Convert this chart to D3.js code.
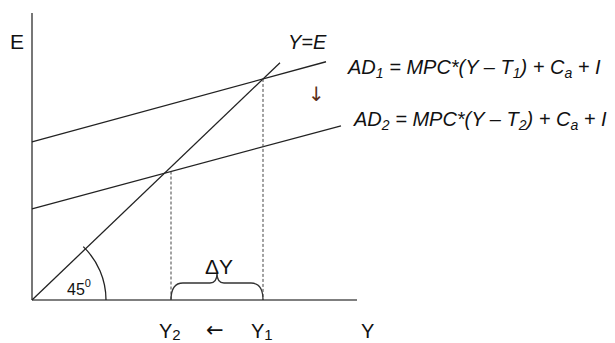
<!DOCTYPE html>
<html>
<head>
<meta charset="utf-8">
<script src="https://cdn.jsdelivr.net/npm/d3@7"></script>
<style>
  body { margin: 0; background: #fff; }
  text { font-family: "Liberation Sans", Arial, sans-serif; fill: #111; }
</style>
</head>
<body>
<div id="chart"></div>
<script>
// Keynesian cross, values (data units)
const adNames = ["AD1", "AD2"];
const adIntercepts = [6.61, 3.81];
const adSlopes = [0.285, 0.281];
const adEnds = [11.76, 12.36];
const line45End = 9.92;
const incomeLevels = [9.24, 5.56];   // Y1, Y2 (where the dashed drop lines sit)
const incomeLabels = ["Y1", "Y2"];

const width = 615, height = 343;
const origin = {x: 32, y: 300};

const svg = d3.select("#chart").append("svg")
    .attr("width", width)
    .attr("height", height);

const xScale = d3.scaleLinear().domain([0, 13]).range([origin.x, 357]);
const yScale = d3.scaleLinear().domain([0, 12]).range([origin.y, 13]);

// axes (plain lines, no ticks)
svg.append("line")
    .attr("x1", xScale(0)).attr("y1", yScale(0))
    .attr("x2", xScale(0)).attr("y2", yScale(12))
    .attr("stroke", "#555").attr("stroke-width", 1.6);
svg.append("line")
    .attr("x1", xScale(0)).attr("y1", yScale(0))
    .attr("x2", xScale(13)).attr("y2", yScale(0))
    .attr("stroke", "#555").attr("stroke-width", 1.6);

const line = d3.line().x(d => xScale(d[0])).y(d => yScale(d[1]));

// 45 degree line
svg.append("path")
    .attr("d", line([[0, 0], [line45End, line45End]]))
    .attr("fill", "none").attr("stroke", "#222").attr("stroke-width", 1.3);

// AD lines
adNames.forEach((n, i) => {
    const c = adIntercepts[i], m = adSlopes[i];
    svg.append("path")
        .attr("d", line([[0, c], [adEnds[i], c + m * adEnds[i]]]))
        .attr("fill", "none").attr("stroke", "#222").attr("stroke-width", 1.3);
});

// dashed drop lines
incomeLevels.forEach((y, i) => {
    const top = adIntercepts[i] + adSlopes[i] * y;
    svg.append("line")
        .attr("x1", xScale(y)).attr("y1", yScale(top))
        .attr("x2", xScale(y)).attr("y2", yScale(0))
        .attr("stroke", "#444").attr("stroke-width", 1)
        .attr("stroke-dasharray", "3,2");
});

// 45 degree arc
const r = 74;
svg.append("path")
    .attr("d", d3.arc()({innerRadius: r, outerRadius: r, startAngle: Math.PI / 2 - Math.PI / 4 - 0.02, endAngle: Math.PI / 2}))
    .attr("transform", "translate(" + origin.x + "," + origin.y + ")")
    .attr("fill", "none").attr("stroke", "#222").attr("stroke-width", 1.3);

// brace under delta Y
const bx1 = xScale(incomeLevels[1]), bx2 = xScale(incomeLevels[0]);
const bm = (bx1 + bx2) / 2, by = yScale(0), bt = by - 17, bp = by - 27;
const brace = d3.path();
brace.moveTo(bx1, by);
brace.quadraticCurveTo(bx1, bt, bx1 + 12, bt);
brace.lineTo(bm - 7, bt);
brace.quadraticCurveTo(bm, bt, bm, bp);
brace.quadraticCurveTo(bm, bt, bm + 7, bt);
brace.lineTo(bx2 - 12, bt);
brace.quadraticCurveTo(bx2, bt, bx2, by);
svg.append("path").attr("d", brace.toString())
    .attr("fill", "none").attr("stroke", "#333").attr("stroke-width", 1.3);

// labels
svg.append("text").attr("x", 10).attr("y", 49).style("font-size", "21px").text("E");

svg.append("text").attr("x", 288).attr("y", 49)
    .style("font-size", "20px").style("font-style", "italic").text("Y=E");

function sub(t, s) {
    t.append("tspan").attr("dy", 4).style("font-size", "14px").text(s);
    return t.append("tspan").attr("dy", -4);
}
function equation(x, y, s) {
    const t = svg.append("text").attr("x", x).attr("y", y)
        .style("font-size", "20px").style("font-style", "italic");
    t.append("tspan").text("AD");
    sub(t, s).text(" = MPC*(Y \u2013 T");
    sub(t, s).text(") + C");
    sub(t, "a").text(" + I");
}
equation(348, 74, "1");
equation(354, 126, "2");

svg.append("text").attr("x", 308).attr("y", 101)
    .style("font-family", "DejaVu Sans").style("font-size", "20px")
    .style("fill", "#5a3018").text("\u2193");

// delta Y
svg.append("text").attr("x", 205).attr("y", 274)
    .style("font-size", "21px").text("\u0394Y");

// 45 degrees
const a = svg.append("text").attr("x", 67).attr("y", 295).style("font-size", "16px");
a.append("tspan").text("45");
a.append("tspan").attr("dy", -8).style("font-size", "11px").text("0");

// x axis labels
const xl = svg.append("g").style("font-size", "20px");
incomeLabels.forEach((lab, i) => {
    const t = xl.append("text").attr("x", xScale(incomeLevels[i]) - 12).attr("y", 338);
    t.append("tspan").text(lab[0]);
    t.append("tspan").style("font-size", "15px").attr("dy", 2).text(lab[1]);
});
xl.append("text").attr("x", 206).attr("y", 337)
    .style("font-family", "DejaVu Sans").style("font-size", "21px").text("\u2190");
xl.append("text").attr("x", 361).attr("y", 338).text("Y");
</script>
</body>
</html>
